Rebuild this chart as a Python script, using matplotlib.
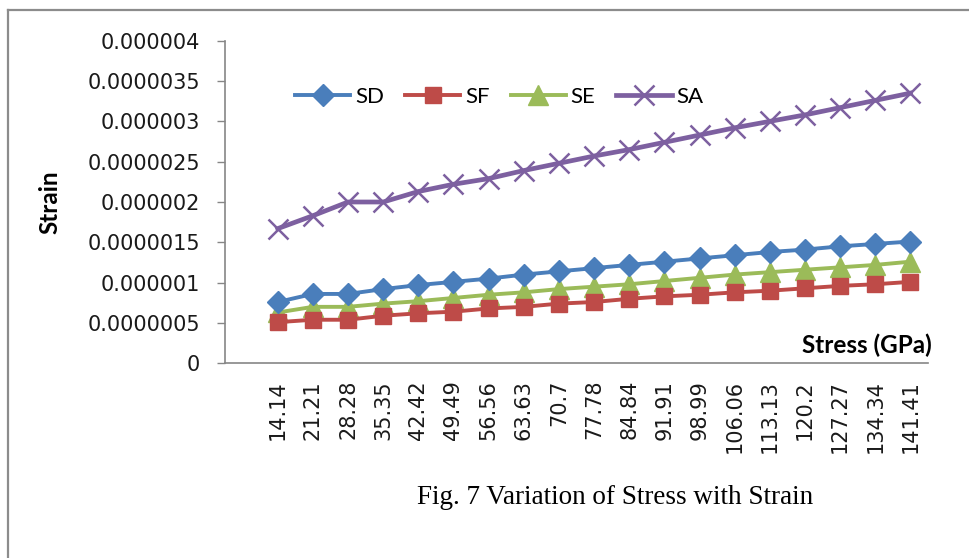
import matplotlib.pyplot as plt
from matplotlib.lines import Line2D
import numpy as np

# categories (stress, GPa) and strain series
stress = ["14.14", "21.21", "28.28", "35.35", "42.42", "49.49", "56.56", "63.63",
          "70.7", "77.78", "84.84", "91.91", "98.99", "106.06", "113.13", "120.2",
          "127.27", "134.34", "141.41"]
sd = [0.76, 0.86, 0.86, 0.92, 0.97, 1.01, 1.05, 1.10, 1.14, 1.18, 1.22, 1.26,
      1.30, 1.34, 1.38, 1.41, 1.45, 1.48, 1.51]
sf = [0.51, 0.54, 0.54, 0.59, 0.62, 0.64, 0.68, 0.70, 0.74, 0.76, 0.80, 0.83,
      0.85, 0.88, 0.90, 0.93, 0.96, 0.98, 1.01]
se = [0.63, 0.70, 0.70, 0.74, 0.77, 0.81, 0.85, 0.88, 0.92, 0.95, 0.98, 1.02,
      1.06, 1.10, 1.13, 1.16, 1.19, 1.22, 1.26]
sa = [1.67, 1.83, 2.00, 2.00, 2.13, 2.22, 2.29, 2.39, 2.48, 2.57, 2.65, 2.74,
      2.83, 2.92, 3.00, 3.08, 3.17, 3.26, 3.35]
yticks = [0, 0.5e-6, 1e-6, 1.5e-6, 2e-6, 2.5e-6, 3e-6, 3.5e-6, 4e-6]
ytick_labels = ["0", "0.0000005", "0.000001", "0.0000015", "0.000002",
                "0.0000025", "0.000003", "0.0000035", "0.000004"]

W, H = 970, 558
fig = plt.figure(figsize=(W / 100, H / 100), dpi=100)
# page frame: only left and top edges are visible
fig.lines.append(Line2D([8.5 / W, 8.5 / W], [0, 1 - 10 / H], transform=fig.transFigure,
                        color="#8c8c8c", lw=1.6))
fig.lines.append(Line2D([8.5 / W, 1], [1 - 10 / H, 1 - 10 / H], transform=fig.transFigure,
                        color="#8c8c8c", lw=1.6))

ax = fig.add_axes([225 / W, (H - 363.3) / H, 703 / W, 322.6 / H])
x = np.arange(len(stress))
scale = 1e-6

ax.plot(x, np.array(sd) * scale, color="#4a7ebb", lw=2.8, marker="D", ms=11,
        mec="#4a7ebb", label="SD", zorder=3)
ax.plot(x, np.array(se) * scale, color="#9bbb59", lw=2.8, marker="^", ms=14,
        mec="#9bbb59", label="SE", zorder=2)
ax.plot(x, np.array(sf) * scale, color="#be4b48", lw=2.8, marker="s", ms=11,
        mec="#be4b48", label="SF", zorder=2.5)
ax.plot(x, np.array(sa) * scale, color="#7d60a0", lw=3.4, marker="x", ms=14,
        mew=1.8, label="SA", zorder=3)

ax.set_xlim(-1.5, 18.5)
ax.set_ylim(0, 4e-6)
ax.set_yticks(yticks)
ax.set_yticklabels(ytick_labels)
ax.set_xticks(x)
ax.set_xticklabels(stress, rotation=90, va="top", ha="center")
ax.tick_params(axis="y", length=6, width=1, color="#868686", pad=12,
               labelsize=15, labelcolor="#1a1a1a")
ax.tick_params(axis="x", length=0, pad=12, labelsize=15, labelcolor="#1a1a1a")
for lab in ax.get_xticklabels() + ax.get_yticklabels():
    lab.set_family("DejaVu Sans")

for s in ["top", "right"]:
    ax.spines[s].set_visible(False)
for s in ["left", "bottom"]:
    ax.spines[s].set_color("#868686")
    ax.spines[s].set_linewidth(1.2)

ax.set_ylabel("Strain", fontsize=17.5, fontweight="bold", family="Lato")
ax.yaxis.set_label_coords(-0.232, 0.5)
ax.text(1.005, 0.057, "Stress (GPa)", transform=ax.transAxes, ha="right",
        va="center", fontsize=17.5, fontweight="bold", family="Lato")

handles, labels = ax.get_legend_handles_labels()
order = [0, 2, 1, 3]
ax.legend([handles[i] for i in order], [labels[i] for i in order], ncol=4,
          loc="center", bbox_to_anchor=(0.39, 0.825), frameon=False,
          numpoints=1, handlelength=2.5, handletextpad=0.2, columnspacing=0.95,
          prop={"family": "Lato", "size": 16})

fig.text(615 / W, 1 - 497 / H, "Fig. 7 Variation of Stress with Strain",
         ha="center", va="center", fontsize=19.5, family="Liberation Serif")

fig.savefig("out.png", dpi=100)
